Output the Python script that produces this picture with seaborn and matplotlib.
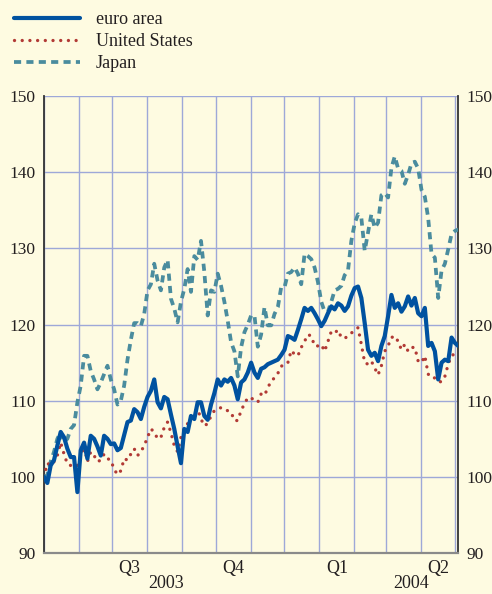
import matplotlib
matplotlib.use("Agg")
import matplotlib.pyplot as plt
import matplotlib.dates as mdates
import matplotlib.transforms as mtransforms
import pandas as pd
import seaborn as sb

euro_area = [
    100.0, 99.2, 101.5, 102.2, 104.1, 105.9, 105.2, 103.7, 102.6, 102.6,
    98.0, 103.5, 104.5, 102.4, 105.4, 105.0, 104.0, 102.8, 105.4, 105.0,
    104.3, 104.4, 103.5, 103.8, 105.5, 107.2, 107.4, 108.9, 108.5, 107.6,
    109.2, 110.5, 111.3, 112.8, 109.8, 109.0, 110.5, 110.2, 108.2, 106.3,
    104.0, 101.8, 106.3, 105.9, 108.0, 107.6, 109.8, 109.8, 108.0, 107.5,
    109.5, 111.0, 112.8, 112.0, 112.8, 112.5, 113.0, 112.0, 110.2, 112.4,
    112.8, 113.7, 115.0,
    113.7, 113.0, 114.2, 114.4, 114.8, 115.0, 115.2, 115.4, 116.0, 116.7,
    118.5, 118.3, 118.0, 119.3, 120.7, 122.2, 121.8, 122.2, 121.5, 120.7,
    119.8, 120.5, 121.5, 122.4, 122.0, 122.8, 122.5, 121.8, 122.4, 123.8,
    124.8, 125.0, 123.5, 120.2, 116.7, 115.9, 116.3, 115.2, 117.2, 118.5,
    121.1, 123.9, 122.2, 122.8, 121.7, 122.4, 123.7, 122.5, 123.5, 121.5,
    121.1, 122.2, 117.2, 117.6, 116.5, 112.8, 115.0, 115.4, 115.2, 118.3,
    117.6, 117.2,
]
united_states = [
    100.0, 101.8, 101.5, 102.0, 102.8, 104.5, 103.0, 101.7, 101.5, 101.3,
    101.5, 102.6, 104.1, 102.0, 103.3, 102.8, 102.0, 102.2, 103.0, 102.4,
    102.2, 101.0, 100.3, 100.8, 102.4, 102.2, 103.0, 103.7, 102.8, 103.3,
    104.1, 105.2, 106.3, 105.9, 105.0, 105.2, 106.5, 107.2, 105.8, 104.1,
    103.3, 105.2, 106.3, 107.0, 107.5, 108.5, 108.9, 107.6, 106.7, 107.0,
    108.0, 108.7, 108.9, 109.1, 108.8, 108.7, 108.5, 107.4, 107.4, 108.7,
    109.6, 110.4, 110.4,
    110.0, 109.8, 110.9, 110.7, 111.7, 112.6, 113.0, 113.6, 114.5, 114.9,
    115.0, 116.6, 116.1, 115.9, 117.0, 117.8, 118.7, 118.5, 117.2, 117.2,
    117.4, 116.5, 117.8, 119.1, 118.9, 119.3, 118.3, 118.2, 118.5, 118.9,
    119.2, 119.6, 117.4, 115.0, 114.8, 115.2, 114.3, 113.4, 114.6, 116.5,
    117.2, 118.3, 118.5, 117.8, 116.7, 117.4, 116.5, 117.0, 117.0, 115.2,
    115.0, 115.9, 113.5, 113.0, 113.0, 112.5, 112.5, 113.2, 114.8, 115.9,
    116.2, 116.4,
]
japan = [
    100.0, 100.2, 102.0, 103.3, 105.0, 105.9, 104.6, 105.0, 106.3, 106.8,
    109.8, 112.0, 115.9, 115.9, 113.9, 112.8, 111.5, 112.4, 113.5, 114.6,
    112.8, 111.5, 109.5, 110.0, 112.0, 115.4, 118.0, 120.2, 120.2, 119.8,
    121.4, 124.5, 125.3, 128.0, 125.8, 124.5, 127.5, 128.5, 123.4, 122.1,
    120.3, 123.0, 124.7, 127.3, 124.3, 129.0, 128.5, 131.0, 126.9, 121.2,
    124.5, 124.3, 126.7, 125.1, 123.0, 120.5, 117.7, 116.5, 113.2, 117.0,
    119.0, 120.0, 121.2,
    121.2, 117.1, 118.7, 122.3, 119.9, 119.9, 121.4, 122.3, 124.9, 124.9,
    126.7, 126.9, 127.5, 126.7, 125.3, 129.3, 129.0, 128.6, 127.5, 125.6,
    123.0, 121.7, 121.7, 123.0, 124.5, 124.7, 125.1, 126.5, 127.1, 131.0,
    133.3, 134.5, 134.0, 129.7, 132.1, 134.5, 132.7, 133.4, 137.0, 137.3,
    136.7, 140.6, 142.1, 140.5, 140.2, 138.5, 139.7, 141.2, 141.4, 140.5,
    137.7, 136.8, 134.0, 129.3, 128.8, 123.5, 127.1, 128.0, 129.9, 131.9,
    132.3, 132.5,
]
start_date = "2003-05-01"
end_date = "2004-05-04"
quarter_labels = ["Q3", "Q4", "Q1", "Q2"]
quarter_dates = ["2003-07-16", "2003-10-17", "2004-01-17", "2004-04-16"]
year_labels = ["2003", "2004"]
year_dates = ["2003-08-18", "2004-03-23"]

BG = "#fefbe1"
GRID = "#9ea8d8"
TEXT = "#231f20"

dates = pd.date_range(start_date, end_date, periods=len(euro_area))
df = pd.DataFrame({"date": dates, "euro area": euro_area,
                   "United States": united_states, "Japan": japan})

sb.set_theme(style="white")
plt.rcParams["font.family"] = ["Liberation Serif", "DejaVu Serif"]

fig = plt.figure(figsize=(4.92, 5.94), dpi=100, facecolor=BG)
ax = fig.add_axes([0.0894, 0.069, 0.842, 0.769])
ax.set_facecolor(BG)

sb.lineplot(data=df, x="date", y="Japan", ax=ax, color="#4a8c9e", lw=2.7,
            linestyle=(0, (1.9, 1.4)), label="Japan", zorder=3)
sb.lineplot(data=df, x="date", y="United States", ax=ax, color="#b23a35", lw=2.4,
            linestyle=(0, (0.01, 2.3)), dash_capstyle="round",
            label="United States", zorder=4)
sb.lineplot(data=df, x="date", y="euro area", ax=ax, color="#0052a0", lw=3.0,
            label="euro area", zorder=5)

# axes
ax.set_ylim(90, 150)
ax.set_yticks(range(90, 151, 10))
ax.set_xlim(pd.Timestamp(start_date), pd.Timestamp(end_date))
ax.xaxis.set_major_locator(mdates.MonthLocator())
ax.xaxis.set_major_formatter(plt.NullFormatter())
ax.set_xlabel("")
ax.set_ylabel("")
ax.grid(True, color=GRID, lw=1.0, zorder=0)
ax.set_axisbelow(True)

ax.tick_params(axis="y", length=0, labelsize=12.5, labelcolor=TEXT,
               labelleft=True, labelright=True, pad=6)
ax.tick_params(axis="x", direction="out", length=5, width=1.2, color="#777777")

for side in ["left", "right"]:
    ax.spines[side].set_color("#333333")
    ax.spines[side].set_linewidth(1.3)
ax.spines["top"].set_visible(False)
ax.spines["bottom"].set_color("#8a8a8a")
ax.spines["bottom"].set_linewidth(1.6)

trans = mtransforms.blended_transform_factory(ax.transData, ax.transAxes)
for lab, d in zip(quarter_labels, quarter_dates):
    ax.text(pd.Timestamp(d), -0.033, lab, transform=trans, ha="center", va="center",
            fontsize=13, color=TEXT)
for lab, d in zip(year_labels, year_dates):
    ax.text(pd.Timestamp(d), -0.066, lab, transform=trans, ha="center", va="center",
            fontsize=13, color=TEXT)

# legend in the reference order
handles, labels = ax.get_legend_handles_labels()
order = [labels.index(n) for n in ["euro area", "United States", "Japan"]]
ax.legend([handles[i] for i in order], [labels[i] for i in order],
          loc="upper left", bbox_to_anchor=(0.029, 0.981), bbox_transform=fig.transFigure,
          frameon=False, fontsize=13, handlelength=3.65, handletextpad=0.85,
          labelspacing=0.28, borderpad=0, borderaxespad=0, labelcolor=TEXT)

fig.savefig("out.png", dpi=100, facecolor=BG)
